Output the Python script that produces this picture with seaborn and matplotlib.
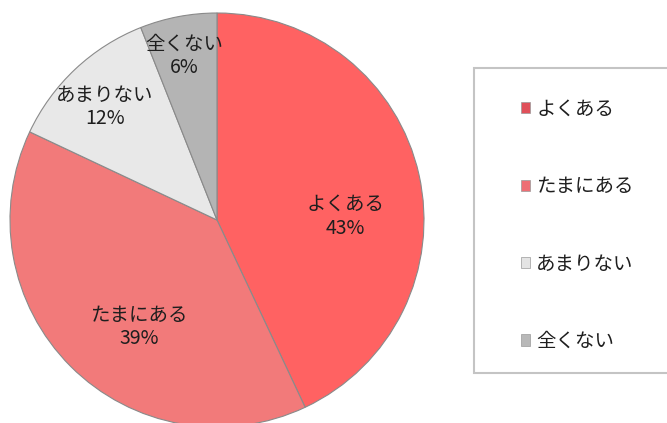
import matplotlib
matplotlib.use("Agg")
import matplotlib.pyplot as plt
from matplotlib.patches import Rectangle, Patch
import numpy as np
import seaborn as sns

categories = ["よくある", "たまにある", "あまりない", "全くない"]
values = [43, 39, 12, 6]
colors = ["#FF6262", "#F27A7A", "#E8E8E8", "#B4B4B4"]
legend_colors = ["#E0505A", "#EE6E74", "#E4E4E4", "#B8B8B8"]

sns.set_theme(style="white")
plt.rcParams["font.family"] = ["Noto Sans CJK JP", "DejaVu Sans"]

W, H = 667, 423
fig = plt.figure(figsize=(W / 100, H / 100), dpi=100)
fig.patch.set_facecolor("white")

cx, cy, r = 217, 220, 207
ax = fig.add_axes([(cx - r) / W, (H - cy - r) / H, 2 * r / W, 2 * r / H])

wedges, _ = ax.pie(values, colors=colors, startangle=90, counterclock=False,
                   radius=1, wedgeprops=dict(edgecolor="#8a8a8a", linewidth=0.8))
ax.set_xlim(-1, 1)
ax.set_ylim(-1, 1)
ax.set_aspect("equal")
ax.axis("off")
for w in wedges:
    w.set_clip_on(False)

# label placement (radial fraction, angular tweak in degrees) per wedge
label_r = [0.62, 0.64, 0.77, 0.81]
label_dang = [-11.0, 9.0, 1.5, 0.5]
for w, cat, v, lr, da in zip(wedges, categories, values, label_r, label_dang):
    ang = np.deg2rad((w.theta1 + w.theta2) / 2 + da)
    ax.text(lr * np.cos(ang), lr * np.sin(ang), f"{cat}\n{v}%",
            ha="center", va="center", fontsize=14, color="#1e1e1e",
            linespacing=1.15)

# legend frame
fig.patches.append(Rectangle((474 / W, 1 - 373 / H), (W - 474 + 5) / W, (373 - 68) / H,
                             transform=fig.transFigure, facecolor="white",
                             edgecolor="#C4C4C4", linewidth=1.5, zorder=0))

handles = [Patch(facecolor=c, edgecolor="#9a9a9a", linewidth=0.5) for c in legend_colors]
fig.legend(handles, categories, loc="upper left",
           bbox_to_anchor=(511 / W, 1 - 89 / H), frameon=False,
           fontsize=14, handlelength=0.5, handleheight=0.5,
           handletextpad=0.3, labelspacing=2.9, borderpad=0,
           labelcolor="#1e1e1e")

fig.savefig("out.png", dpi=100, facecolor="white")
